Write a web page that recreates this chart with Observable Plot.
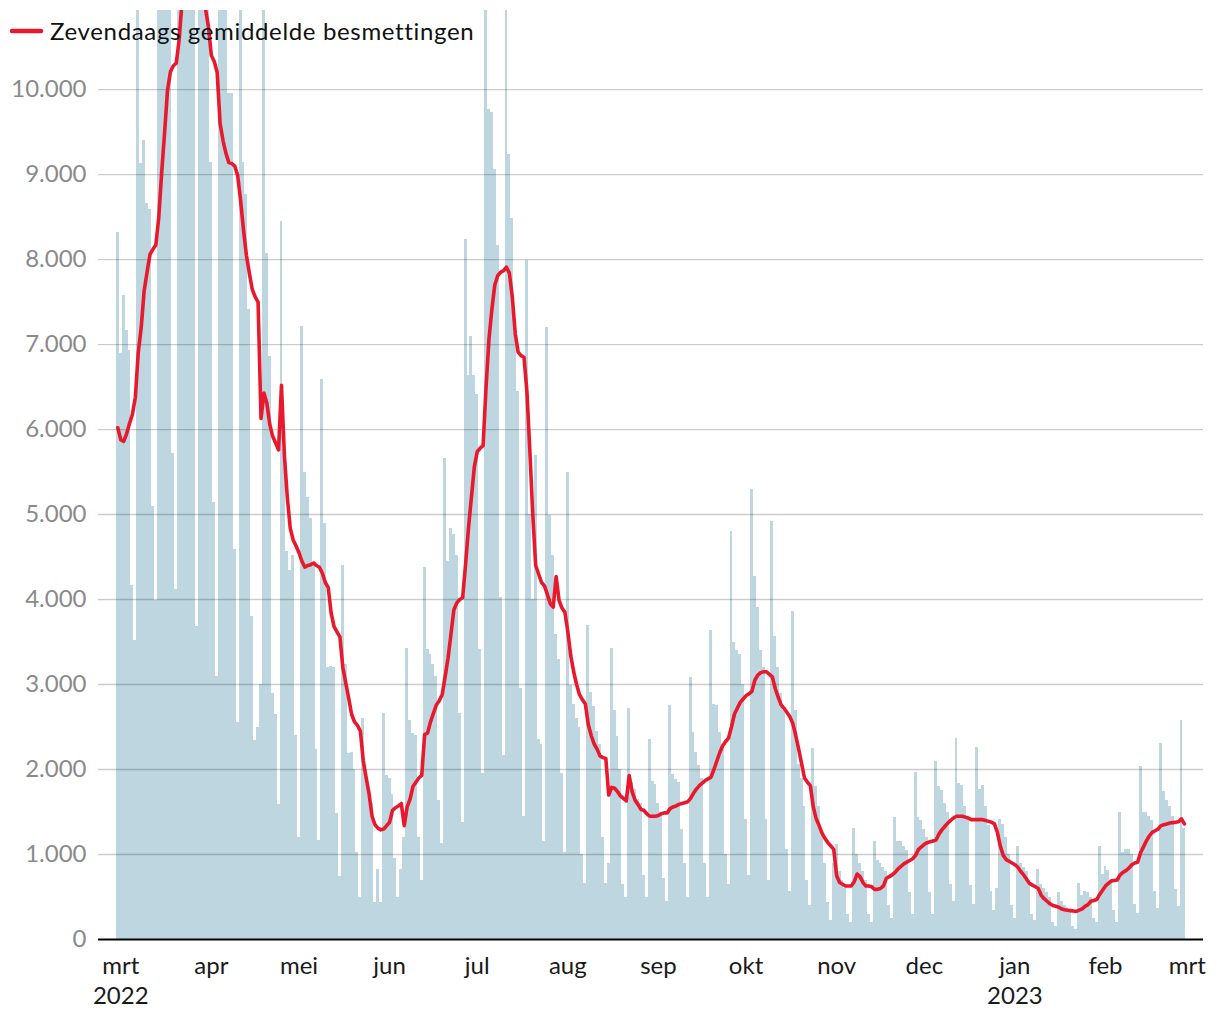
<!DOCTYPE html>
<html>
<head>
<meta charset="utf-8">
<script src="https://cdn.jsdelivr.net/npm/d3@7"></script>
<script src="https://cdn.jsdelivr.net/npm/@observablehq/plot@0.6"></script>
<style>
  html, body { margin: 0; padding: 0; background: #fff; }
  #wrap { position: relative; width: 1220px; height: 1020px; font-family: Lato, sans-serif; }
  #legend { position: absolute; left: 0; top: 0; }
</style>
</head>
<body>
<div id="wrap"></div>
<script>
// ---------- data ----------
const startDate = "2022-02-28";           // first day of both series
const legendLabel = "Zevendaags gemiddelde besmettingen";

// daily reported infections (Feb 28 2022 .. Feb 28 2023), weeks Tue..Mon
const dailyCases = [8321,
  6893, 7571, 7164, 6929, 4164, 3521, 13000,
  9129, 9400, 8664, 8593, 5093, 3986, 15500,
  14500, 13500, 13000, 12500, 5714, 4114, 16000,
  15000, 14500, 13500, 12500, 11000, 3679, 14500,
  14000, 13500, 12500, 9143, 5143, 3093, 13500,
  12500, 12000, 9950, 9950, 4590, 2556, 12500,
  9140, 8770, 7410, 3800, 2340, 2500, 3000,
  12000, 8070, 6860, 2890, 2650, 1590, 8450,
  5760, 4570, 4340, 4520, 2400, 1200, 7210,
  5500, 5200, 4950, 4400, 2230, 1170, 6590,
  4890, 3200, 3210, 3200, 1480, 740, 4400,
  3240, 2190, 2200, 2000, 1020, 500, 2600,
  2000, 1730, 1600, 440, 820, 430, 2660,
  1930, 1900, 1710, 950, 500, 820, 1200,
  3420, 2580, 2420, 2400, 1200, 700, 4380,
  3410, 3350, 3240, 3100, 1630, 1130, 5660,
  4450, 4840, 4770, 4520, 2660, 1380, 8240,
  6630, 7090, 6630, 6410, 3410, 1950, 12500,
  9770, 9730, 9060, 8160, 4020, 2160, 12500,
  9230, 8480, 7130, 6450, 2950, 1450, 7990,
  5000, 4000, 5690, 2350, 2300, 1150, 7200,
  4990, 4520, 3590, 3300, 1950, 1020, 5490,
  2990, 2770, 2600, 2500, 1000, 660, 3690,
  2910, 2740, 2450, 2300, 1200, 660, 900,
  3420, 2700, 2390, 2000, 650, 500, 2720,
  1850, 1770, 1650, 1600, 750, 500, 2350,
  1860, 1820, 1600, 1500, 720, 450, 2750,
  1940, 1880, 1850, 1300, 900, 500, 3080,
  2430, 2200, 2050, 1900, 900, 500, 3640,
  2760, 2750, 2430, 2300, 1000, 650, 4800,
  3500, 3400, 3350, 3000, 1410, 750, 5290,
  4270, 3910, 3400, 3200, 1410, 700, 4920,
  3560, 3200, 2900, 2700, 1060, 560, 3860,
  2700, 2060, 1900, 1570, 700, 400, 2250,
  1800, 1570, 1220, 900, 430, 220, 900,
  1120, 800, 700, 600, 300, 200, 1310,
  1000, 900, 800, 700, 300, 200, 1150,
  930, 900, 850, 800, 400, 250, 1430,
  1150, 1150, 1100, 1050, 550, 300, 1960,
  1440, 1400, 1300, 1200, 550, 300, 2100,
  1800, 1750, 1600, 1500, 650, 450, 2360,
  1830, 1810, 1560, 1450, 630, 410, 2260,
  1770, 1810, 1560, 1340, 560, 340, 600,
  1410, 1350, 1200, 1000, 400, 250, 1100,
  900, 850, 800, 700, 300, 220, 820,
  650, 600, 550, 500, 200, 150, 550,
  450, 400, 380, 350, 150, 120, 660,
  520, 570, 550, 500, 250, 200, 1090,
  770, 860, 810, 700, 340, 200, 1490,
  1020, 1060, 1060, 1000, 410, 310, 2040,
  1490, 1490, 1450, 1400, 570, 360, 2310,
  1740, 1640, 1560, 1450, 590, 390, 2580,
  1310];

// seven-day average, same days
const sevenDayAvg = [6020,
  5880, 5860, 5950, 6070, 6180, 6380, 6910,
  7200, 7630, 7850, 8060, 8120, 8170, 8490,
  9020, 9490, 9990, 10210, 10280, 10310, 10590,
  11050, 11500, 11900, 12200, 12300, 12100, 11700,
  11300, 10950, 10740, 10400, 10330, 10200, 9600,
  9400, 9250, 9140, 9130, 9100, 8990, 8700,
  8350, 8050, 7840, 7650, 7560, 7500, 6130,
  6430, 6310, 6060, 5920, 5840, 5760, 6520,
  5700, 5200, 4840, 4700, 4630, 4550, 4450,
  4380, 4400, 4410, 4430, 4400, 4380, 4310,
  4200, 4140, 3840, 3680, 3620, 3560, 3200,
  3020, 2840, 2650, 2560, 2520, 2450, 2100,
  1900, 1710, 1450, 1350, 1310, 1290, 1300,
  1340, 1380, 1520, 1550, 1570, 1600, 1340,
  1560, 1650, 1800, 1850, 1900, 1930, 2410,
  2430, 2560, 2660, 2760, 2810, 2880, 3090,
  3310, 3590, 3880, 3960, 4000, 4020, 4410,
  4840, 5200, 5560, 5740, 5780, 5810, 6490,
  7060, 7410, 7700, 7810, 7850, 7870, 7910,
  7840, 7560, 7130, 6910, 6870, 6850, 6450,
  5750, 5000, 4400, 4300, 4200, 4160, 4060,
  3950, 3910, 4270, 3990, 3900, 3850, 3620,
  3340, 3150, 3000, 2880, 2820, 2770, 2530,
  2400, 2300, 2240, 2160, 2140, 2130, 1700,
  1790, 1780, 1740, 1690, 1660, 1630, 1930,
  1740, 1640, 1590, 1530, 1520, 1480, 1450,
  1450, 1450, 1460, 1480, 1490, 1490, 1540,
  1560, 1570, 1590, 1600, 1610, 1620, 1660,
  1720, 1770, 1810, 1840, 1870, 1890, 1910,
  2000, 2100, 2200, 2280, 2330, 2370, 2500,
  2650, 2720, 2790, 2830, 2870, 2890, 2920,
  3050, 3110, 3140, 3150, 3150, 3120, 3090,
  2950, 2850, 2760, 2720, 2670, 2620, 2540,
  2400, 2240, 2070, 1900, 1850, 1810, 1560,
  1420, 1340, 1250, 1190, 1140, 1100, 1060,
  750, 670, 650, 630, 630, 630, 680,
  770, 740, 670, 630, 630, 620, 590,
  590, 600, 630, 720, 740, 760, 790,
  830, 860, 890, 910, 930, 950, 990,
  1060, 1090, 1120, 1140, 1150, 1160, 1170,
  1240, 1290, 1330, 1370, 1400, 1430, 1450,
  1450, 1450, 1440, 1430, 1410, 1410, 1410,
  1410, 1410, 1400, 1390, 1380, 1360, 1260,
  1100, 990, 940, 920, 900, 880, 850,
  800, 760, 710, 660, 640, 620, 600,
  520, 480, 450, 420, 400, 390, 380,
  360, 350, 345, 340, 335, 330, 345,
  360, 390, 410, 450, 460, 470, 530,
  580, 630, 660, 690, 695, 700, 760,
  790, 810, 840, 880, 900, 910, 1020,
  1090, 1160, 1220, 1260, 1280, 1300, 1340,
  1350, 1360, 1370, 1375, 1380, 1385, 1420,
  1360];

const monthTicks = ["2022-03-01","2022-04-01","2022-05-01","2022-06-01","2022-07-01","2022-08-01",
  "2022-09-01","2022-10-01","2022-11-01","2022-12-01","2023-01-01","2023-02-01","2023-03-01"];
const monthLabels = ["mrt\n2022","apr","mei","jun","jul","aug","sep","okt","nov","dec","jan\n2023","feb","mrt"];
const yTicks = [0, 1000, 2000, 3000, 4000, 5000, 6000, 7000, 8000, 9000, 10000];

// ---------- build ----------
const DAY = 864e5;
const t0 = Date.parse(startDate + "T00:00:00Z");
const rows = dailyCases.map((v, i) => ({
  date: new Date(t0 + i * DAY),
  cases: v,
  avg: sevenDayAvg[i]
}));
const tickDates = monthTicks.map(s => new Date(s + "T00:00:00Z"));
const fmt = v => d3.format(",")(v).replace(/,/g, ".");

const RED = "#e8192d";
const BAR = "#bdd6e0";
const FONT = "Lato, sans-serif";

const chart = Plot.plot({
  width: 1220,
  height: 1020,
  marginLeft: 98,
  marginRight: 17,
  marginTop: 10,
  marginBottom: 81,
  style: { fontFamily: FONT, background: "transparent" },
  x: {
    type: "utc",
    domain: [new Date(Date.UTC(2022, 2, 1) - 7.615 * DAY), new Date(Date.UTC(2023, 2, 1) + 5.54 * DAY)],
    axis: null
  },
  y: { domain: [0, 10930], axis: null },
  marks: [
    Plot.rectY(rows, {
      x1: d => new Date(+d.date - DAY / 2),
      x2: d => new Date(+d.date + DAY / 2),
      y: "cases",
      fill: BAR,
      clip: true,
      shapeRendering: "crispEdges"
    }),
    Plot.ruleY(yTicks.filter(v => v > 0), { stroke: "#000", strokeOpacity: 0.2, strokeWidth: 1.3 }),
    Plot.ruleY([0], { stroke: "#000", strokeWidth: 2.2 }),
    Plot.lineY(rows, {
      x: "date", y: "avg", stroke: RED, strokeWidth: 3.6,
      strokeLinejoin: "round", strokeLinecap: "round", clip: true
    }),
    Plot.axisY({
      ticks: yTicks, tickSize: 0, tickPadding: 12, tickFormat: fmt,
      fontSize: 24, color: "#8a8a8a"
    }),
    Plot.text(tickDates, {
      x: d => d, text: (d, i) => monthLabels[i],
      frameAnchor: "bottom", lineAnchor: "top", dy: 13, dx: 0,
      fontSize: 24, lineHeight: 1.26, fill: "#1a1a1a",
      letterSpacing: 0.6
    })
  ]
});

const wrap = document.getElementById("wrap");
wrap.appendChild(chart);

// legend overlay (drawn on top of the plot, as in the original)
const ns = "http://www.w3.org/2000/svg";
const leg = document.createElementNS(ns, "svg");
leg.setAttribute("id", "legend");
leg.setAttribute("width", "520");
leg.setAttribute("height", "50");
const ln = document.createElementNS(ns, "line");
ln.setAttribute("x1", "12"); ln.setAttribute("x2", "41");
ln.setAttribute("y1", "31"); ln.setAttribute("y2", "31");
ln.setAttribute("stroke", RED); ln.setAttribute("stroke-width", "4.5");
ln.setAttribute("stroke-linecap", "round");
leg.appendChild(ln);
const tx = document.createElementNS(ns, "text");
tx.setAttribute("x", "50"); tx.setAttribute("y", "40");
tx.setAttribute("font-family", FONT);
tx.setAttribute("font-size", "24");
tx.setAttribute("letter-spacing", "0.65");
tx.setAttribute("fill", "#111");
tx.textContent = legendLabel;
leg.appendChild(tx);
wrap.appendChild(leg);
</script>
</body>
</html>
